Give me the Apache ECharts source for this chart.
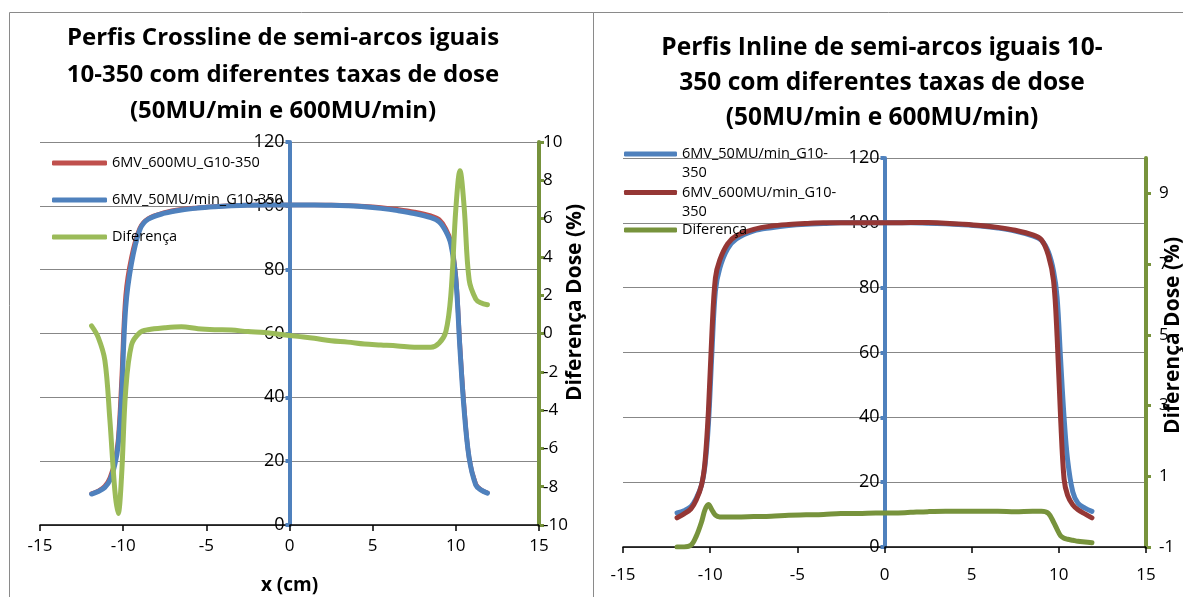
<!DOCTYPE html>
<html><head><meta charset="utf-8">
<script src="https://cdn.jsdelivr.net/npm/echarts@6/dist/echarts.min.js"></script>
<style>html,body{margin:0;padding:0;background:#fff}#c{width:1183px;height:597px}</style>
</head><body><div id="c"></div>
<script>
// ---------- Crossline (left chart) ----------
const crossTitle = 'Perfis Crossline de semi-arcos iguais\n10-350 com diferentes taxas de dose\n(50MU/min e 600MU/min)';
const crossNames = ['6MV_600MU_G10-350', '6MV_50MU/min_G10-350', 'Diferença'];
const crossX = [-11.9, -11.5, -11.1, -10.8, -10.5, -10.3, -10.1, -9.85, -9.5, -9.0, -8.5, -7.5, -6.5, -5.5, -4.5, -3.5, -2.5, -1.5, -0.5, 0.5, 1.5, 2.5, 3.5, 4.5, 5.5, 6.5, 7.5, 8.5, 9.0, 9.4, 9.7, 10.0, 10.25, 10.5, 10.8, 11.2, 11.5, 11.9];
const cross600 = [9.8, 10.7, 12.2, 14.8, 20, 27, 45, 72, 84, 93, 96, 97.9, 98.9, 99.4, 99.8, 100.1, 100.3, 100.3, 100.3, 100.3, 100.3, 100.3, 100.1, 99.9, 99.5, 98.9, 98.1, 96.9, 95.7, 92.8, 88.8, 78, 56, 37, 21, 12.8, 11.1, 10.1];
const cross50 = [9.7, 10.5, 11.8, 14, 19, 25, 40, 68, 82, 92.5, 95.8, 97.7, 98.7, 99.3, 99.7, 100, 100.2, 100.3, 100.3, 100.3, 100.3, 100.2, 100, 99.7, 99.2, 98.5, 97.6, 96.3, 95, 92, 88, 77, 55, 36, 21, 12.5, 11, 10];
const crossDiff = [0.4, -0.2, -1.4, -4.5, -8.2, -9.4, -7.5, -3, -0.6, 0.05, 0.2, 0.3, 0.35, 0.25, 0.2, 0.18, 0.1, 0.05, -0.05, -0.15, -0.25, -0.38, -0.45, -0.55, -0.6, -0.65, -0.72, -0.72, -0.5, 0.1, 2.0, 6.5, 8.5, 6.6, 2.8, 1.8, 1.6, 1.5];

// ---------- Inline (right chart) ----------
const inTitle = 'Perfis Inline de semi-arcos iguais 10-\n350 com diferentes taxas de dose\n(50MU/min e 600MU/min)';
const inNames = ['6MV_50MU/min_G10-350', '6MV_600MU/min_G10-350', 'Diferença'];
const inX = [-11.9, -11.5, -11.1, -10.8, -10.5, -10.3, -10.1, -9.9, -9.7, -9.45, -9.0, -8.5, -7.5, -6.5, -5.5, -4.5, -3.5, -2.5, -1.5, -0.5, 0.5, 1.5, 2.5, 3.5, 4.5, 5.5, 6.5, 7.5, 8.5, 9.0, 9.4, 9.7, 9.9, 10.1, 10.3, 10.5, 10.8, 11.1, 11.5, 11.9];
const in50 = [10.5, 11.2, 12.5, 15, 19, 25, 38, 60, 79, 86, 92, 95, 97.5, 98.5, 99.2, 99.6, 99.8, 100, 100, 100, 100, 100, 99.9, 99.7, 99.4, 99, 98.4, 97.5, 96, 94.6, 91, 85, 77, 58, 40, 27, 17, 13.5, 12, 11];
const in600 = [9, 10.2, 11.8, 14.5, 19, 26, 42, 66, 83, 88.5, 93.5, 96, 98, 99, 99.5, 99.8, 100, 100, 100, 100, 100, 100.1, 100.1, 99.9, 99.6, 99.2, 98.6, 97.7, 96.3, 94.8, 90, 82, 65, 40, 21, 16, 13, 11.5, 10.2, 9];
const inDiff = [-1, -1, -0.95, -0.7, -0.3, 0.05, 0.2, 0.05, -0.1, -0.15, -0.15, -0.15, -0.14, -0.13, -0.1, -0.09, -0.08, -0.05, -0.05, -0.04, -0.04, -0.02, 0, 0.01, 0.01, 0.01, 0.01, 0, 0.01, 0.01, -0.05, -0.3, -0.5, -0.68, -0.75, -0.78, -0.81, -0.84, -0.86, -0.88];

// ---------- axes ----------
const xTicks = {min: -15, max: 15, interval: 5};
const doseTicks = {min: 0, max: 120, interval: 20};
const crossDiffTicks = {min: -10, max: 10, interval: 2};
const inDiffRange = {min: -1, max: 10};
const inDiffLabels = [-1, 1, 3, 5, 7, 9];
const diffAxisName = 'Diferença Dose (%)';
const xAxisName = 'x (cm)';

const FONT = '"Open Sans", "Noto Sans", sans-serif';
const pairs = (xs, ys) => xs.map((x, i) => [x, ys[i]]);

// grid boxes (pixels)
const G0 = {left: 40, right: 644, top: 142, bottom: 72, outerBoundsMode: 'none', containLabel: false};
const G1 = {left: 623, right: 37, top: 158, bottom: 50, outerBoundsMode: 'none', containLabel: false};
// horizontal pixel distance from grid's left edge to x = 0 (the dose axis sits there)
const zeroOffset = g => ((1183 - g.right) - g.left) / 2;

function xAxisCfg(grid, name, margin) {
  return {
    gridIndex: grid, type: 'value', ...xTicks,
    axisLine: {onZero: false, lineStyle: {color: '#000', width: 1.5}},
    axisTick: {show: true, length: 6, lineStyle: {color: '#000', width: 1.5}},
    axisLabel: {fontSize: 17, color: '#000', margin: margin, fontFamily: FONT},
    splitLine: {show: false},
    name: name || '', nameLocation: 'middle', nameGap: 51,
    nameTextStyle: {fontSize: 19, fontWeight: 'bold', color: '#000', fontFamily: FONT}
  };
}
function doseAxisCfg(grid, g) {
  return {
    gridIndex: grid, type: 'value', position: 'left', offset: -zeroOffset(g), ...doseTicks,
    axisLine: {show: true, onZero: false, lineStyle: {color: '#4F81BD', width: 4}},
    axisTick: {show: true, length: 4, lineStyle: {color: '#4F81BD', width: 4}},
    axisLabel: {fontSize: 18, color: '#000', margin: 5, fontFamily: FONT},
    splitLine: {show: true, lineStyle: {color: '#878787', width: 1}}
  };
}
const lineSeries = (name, xi, yi, data, color, width) => ({
  name, type: 'line', xAxisIndex: xi, yAxisIndex: yi, data,
  showSymbol: false, symbol: 'none', smooth: 0.35,
  lineStyle: {color, width, cap: 'round', join: 'round'}, itemStyle: {color}
});
const legendBase = {
  orient: 'vertical', padding: 0, itemWidth: 55, itemHeight: 5,
  icon: 'roundRect', selectedMode: false, lineStyle: {width: 0}
};

const option = {
  animation: false,
  backgroundColor: '#fff',
  graphic: [
    {type: 'rect', z: -10, shape: {x: 9.5, y: 12.5, width: 584, height: 620}, style: {fill: 'none', stroke: '#8a8a8a', lineWidth: 1}},
    {type: 'rect', z: -10, shape: {x: 593.5, y: 12.5, width: 620, height: 620}, style: {fill: 'none', stroke: '#8a8a8a', lineWidth: 1}},
    {type: 'text', x: 283, y: 20, style: {text: crossTitle, fontSize: 24, fontWeight: 'bold', fontFamily: FONT, lineHeight: 36.5, align: 'center', verticalAlign: 'top', fill: '#000'}},
    {type: 'text', x: 882, y: 31, style: {text: inTitle, fontSize: 24.5, fontWeight: 'bold', fontFamily: FONT, lineHeight: 35, align: 'center', verticalAlign: 'top', fill: '#000'}}
  ],
  grid: [G0, G1],
  legend: [
    Object.assign({}, legendBase, {
      left: 52, top: 155, itemGap: 21,
      textStyle: {fontSize: 14.5, color: '#000', fontFamily: FONT, lineHeight: 16},
      data: [
        {name: crossNames[0], itemStyle: {color: '#C0504D'}},
        {name: crossNames[1], itemStyle: {color: '#4F81BD'}},
        {name: crossNames[2], itemStyle: {color: '#9BBB59'}}
      ]
    }),
    Object.assign({}, legendBase, {
      left: 624, top: 127.5, itemWidth: 53, itemGap: -14.5,
      formatter: function (n) {
        const cut = n.lastIndexOf('-');
        return '{a|' + n.slice(0, cut + 1) + '\n' + n.slice(cut + 1) + '}';
      },
      textStyle: {fontSize: 14.5, color: '#000', fontFamily: FONT, rich: {a: {fontSize: 14.5, lineHeight: 19, padding: [19, 0, 0, 0], fontFamily: FONT, color: '#000'}}},
      data: [
        {name: inNames[0], itemStyle: {color: '#4F81BD'}},
        {name: inNames[1], itemStyle: {color: '#953735'}}
      ]
    }),
    Object.assign({}, legendBase, {
      left: 624, top: 221, itemWidth: 53,
      textStyle: {fontSize: 14.5, color: '#000', fontFamily: FONT, lineHeight: 18},
      data: [{name: inNames[2], itemStyle: {color: '#77933C'}}]
    })
  ],
  xAxis: [xAxisCfg(0, xAxisName, 13), xAxisCfg(1, '', 20)],
  yAxis: [
    doseAxisCfg(0, G0),
    {
      gridIndex: 0, type: 'value', position: 'right', ...crossDiffTicks,
      axisLine: {show: true, onZero: false, lineStyle: {color: '#76923C', width: 4}},
      axisTick: {show: true, length: 5, lineStyle: {color: '#76923C', width: 3}},
      axisLabel: {fontSize: 17, color: '#000', margin: 4, fontFamily: FONT},
      splitLine: {show: false},
      name: diffAxisName, nameLocation: 'middle', nameRotate: 90, nameGap: 26, nameMoveOverlap: false,
      nameTextStyle: {fontSize: 21, fontWeight: 'bold', color: '#000', fontFamily: FONT, padding: [0, 0, 0, 62]}
    },
    doseAxisCfg(1, G1),
    {
      gridIndex: 1, type: 'value', position: 'right', ...inDiffRange,
      axisLine: {show: true, onZero: false, lineStyle: {color: '#77933C', width: 4}},
      axisTick: {show: true, length: 5, lineStyle: {color: '#77933C', width: 3}, customValues: inDiffLabels},
      axisLabel: {fontSize: 17, color: '#000', margin: 13, fontFamily: FONT, customValues: inDiffLabels},
      splitLine: {show: false},
      name: diffAxisName, nameLocation: 'middle', nameRotate: 90, nameGap: 17, nameMoveOverlap: false,
      nameTextStyle: {fontSize: 21, fontWeight: 'bold', color: '#000', fontFamily: FONT, padding: [0, 0, 0, 34]}
    }
  ],
  series: [
    lineSeries(crossNames[0], 0, 0, pairs(crossX, cross600), '#C0504D', 4.5),
    lineSeries(crossNames[1], 0, 0, pairs(crossX, cross50), '#4F81BD', 5),
    lineSeries(crossNames[2], 0, 1, pairs(crossX, crossDiff), '#9BBB59', 5),
    lineSeries(inNames[0], 1, 2, pairs(inX, in50), '#4F81BD', 5),
    lineSeries(inNames[1], 1, 2, pairs(inX, in600), '#953735', 5),
    lineSeries(inNames[2], 1, 3, pairs(inX, inDiff), '#77933C', 5)
  ]
};
const chart = echarts.init(document.getElementById('c'), null, {renderer: 'canvas'});
chart.setOption(option);
</script>
</body></html>
